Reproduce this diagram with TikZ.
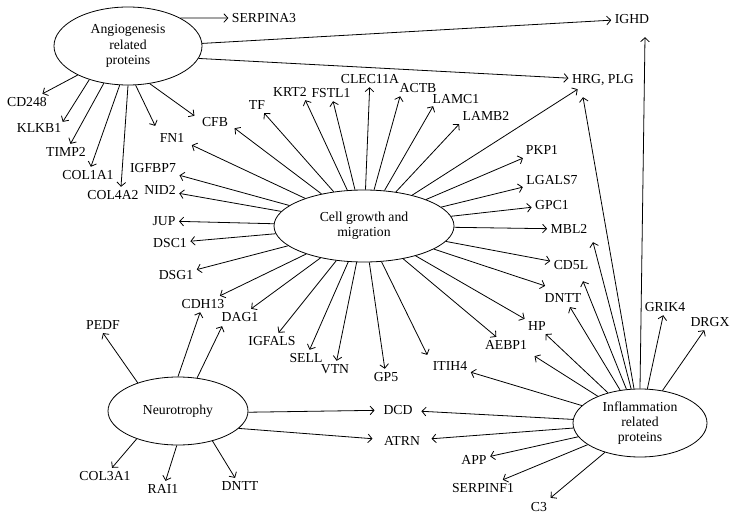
\documentclass[tikz,border=0pt]{standalone}
\usepackage{fontspec}
\setmainfont{Liberation Serif}
\usetikzlibrary{arrows.meta,shapes.geometric}
\begin{document}
\begin{tikzpicture}[x=0.75pt,y=-0.75pt,
  lbl/.style={inner sep=2.5pt, font=\fontsize{10.3}{12}\selectfont},
  grp/.style={draw, ellipse, inner sep=0pt, align=center, line width=0.6pt, font=\fontsize{10.3}{11.4}\selectfont},
  arr/.style={-{Straight Barb[length=3pt,width=6.5pt]}, line width=0.6pt},
]
\useasboundingbox (0,0) rectangle (736,517);
\clip (0,0) rectangle (736,517);

% group ellipses
\node[grp, minimum width=111pt, minimum height=58.5pt] (angio) at (128,46) {Angiogenesis\\related\\proteins};
\node[grp, minimum width=135pt, minimum height=54pt] (cg) at (364,226) {Cell growth and\\migration};
\node[grp, minimum width=105pt, minimum height=51pt] (neuro) at (178,411) {Neurotrophy};
\node[grp, minimum width=100.5pt, minimum height=51pt] (infl) at (640,423) {Inflammation\\related\\proteins};

% labels
\node[lbl] (serpina3) at (264,18) {SERPINA3};
\node[lbl] (ighd) at (632,19) {IGHD};
\node[lbl] (hrg) at (603,80) {HRG, PLG};
\node[lbl] (cd248) at (27,102) {CD248};
\node[lbl] (klkb1) at (39,128) {KLKB1};
\node[lbl] (timp2) at (66,152) {TIMP2};
\node[lbl] (col1a1) at (88,175) {COL1A1};
\node[lbl] (col4a2) at (113,195) {COL4A2};
\node[lbl] (cfb) at (215,122) {CFB};
\node[lbl] (fn1) at (172,138) {FN1};
\node[lbl] (tf) at (257,105) {TF};
\node[lbl] (krt2) at (290,92) {KRT2};
\node[lbl] (fstl1) at (331,93) {FSTL1};
\node[lbl] (clec) at (370,79) {CLEC11A};
\node[lbl] (actb) at (418,88) {ACTB};
\node[lbl] (lamc1) at (456,99) {LAMC1};
\node[lbl] (lamb2) at (486,116) {LAMB2};
\node[lbl] (pkp1) at (542,150) {PKP1};
\node[lbl] (lgals7) at (552,180) {LGALS7};
\node[lbl] (gpc1) at (552,205) {GPC1};
\node[lbl] (mbl2) at (569,229) {MBL2};
\node[lbl] (cd5l) at (571,265) {CD5L};
\node[lbl] (dnttr) at (563,298) {DNTT};
\node[lbl] (hp) at (537,326) {HP};
\node[lbl] (aebp1) at (506,345) {AEBP1};
\node[lbl] (itih4) at (450,366) {ITIH4};
\node[lbl] (gp5) at (386,377) {GP5};
\node[lbl] (vtn) at (335,369) {VTN};
\node[lbl] (sell) at (306,358) {SELL};
\node[lbl] (igfals) at (272,341) {IGFALS};
\node[lbl] (dag1) at (240,317) {DAG1};
\node[lbl] (cdh13) at (203,304) {CDH13};
\node[lbl] (dsg1) at (176,275) {DSG1};
\node[lbl] (dsc1) at (170,243) {DSC1};
\node[lbl] (jup) at (164,221) {JUP};
\node[lbl] (nid2) at (160,190) {NID2};
\node[lbl] (igfbp7) at (153,168) {IGFBP7};
\node[lbl] (pedf) at (103,325) {PEDF};
\node[lbl, inner xsep=6.5pt] (dcd) at (398,410) {DCD};
\node[lbl, inner xsep=8.5pt] (atrn) at (402,441) {ATRN};
\node[lbl] (col3a1) at (105,476) {COL3A1};
\node[lbl] (rai1) at (163,489) {RAI1};
\node[lbl] (dnttb) at (240,486) {DNTT};
\node[lbl] (app) at (474,460) {APP};
\node[lbl] (serpinf1) at (483,488) {SERPINF1};
\node[lbl] (c3) at (539,507) {C3};
\node[lbl] (grik4) at (665,307) {GRIK4};
\node[lbl] (drgx) at (710,322) {DRGX};

% angiogenesis connectors
\draw[arr] (angio.28) -- (serpina3);
\draw[arr] (angio.2) -- (ighd);
\draw[arr] (angio.350) -- (hrg);
\draw[arr] (angio.210) -- (cd248);
\draw[arr] (angio.221) -- ([shift={(-2,2)}]klkb1.north east);
\draw[arr] (angio.237) -- (timp2);
\draw[arr] (angio.258) -- (col1a1);
\draw[arr] (angio.270) -- ([shift={(8,0)}]col4a2.north);
\draw[arr] (angio.281) -- ([shift={(-1,-4)}]fn1.north west);
\draw[arr] (angio.300) -- ([shift={(-4,2)}]cfb.north west);

% cell growth connectors
\draw[arr] (cg) -- ([shift={(3,-2)}]cfb.south east);
\draw[arr] (cg) -- ([shift={(4,-1)}]fn1.south east);
\draw[arr] (cg) -- (tf);
\draw[arr] (cg) -- ([shift={(-5,0)}]krt2.south east);
\draw[arr] (cg) -- (fstl1);
\draw[arr] (cg) -- (clec);
\draw[arr] (cg) -- ([shift={(4,0)}]actb.south west);
\draw[arr] (cg) -- ([shift={(4,-1)}]lamc1.south west);
\draw[arr] (cg) -- (lamb2.south west);
\draw[arr] (cg) -- (hrg.200);
\draw[arr] (cg) -- (pkp1);
\draw[arr] (cg) -- (lgals7);
\draw[arr] (cg) -- (gpc1);
\draw[arr] (cg) -- (mbl2);
\draw[arr] (cg) -- (cd5l);
\draw[arr] (cg) -- ([shift={(4,-4)}]dnttr.north west);
\draw[arr] (cg) -- (hp);
\draw[arr] (cg) -- (aebp1);
\draw[arr] (cg) -- ([shift={(-2,-3)}]itih4.north west);
\draw[arr] (cg) -- (gp5);
\draw[arr] (cg) -- (vtn);
\draw[arr] (cg) -- (sell);
\draw[arr] (cg) -- (igfals);
\draw[arr] (cg) -- (dag1);
\draw[arr] (cg) -- (cdh13);
\draw[arr] (cg) -- (dsg1);
\draw[arr] (cg) -- (dsc1);
\draw[arr] (cg) -- (jup);
\draw[arr] (cg) -- (nid2);
\draw[arr] (cg) -- (igfbp7);

% neurotrophy connectors
\draw[arr] (neuro.145) -- (pedf.south);
\draw[arr] (neuro.90) -- (cdh13);
\draw[arr] (neuro.60) -- ([shift={(4,1)}]dag1.south west);
\draw[arr] (neuro.359) -- (dcd);
\draw[arr] (neuro.344) -- (atrn);
\draw[arr] (neuro.214) -- (col3a1);
\draw[arr] (neuro.268) -- (rai1);
\draw[arr] (neuro.319) -- (dnttb);

% inflammation connectors
\draw[arr] (infl.north) -- ([shift={(13,10)}]ighd.south);
\draw[arr] (infl) -- ([shift={(-20,8)}]hrg.south);
\draw[arr] (infl) -- ([shift={(24,5)}]mbl2.south);
\draw[arr] (infl) -- ([shift={(12,8)}]cd5l.south);
\draw[arr] (infl) -- ([shift={(7,1)}]dnttr.south);
\draw[arr] (infl) -- (hp);
\draw[arr] (infl) -- ([shift={(4,3)}]aebp1.south east);
\draw[arr] (infl) -- (itih4);
\draw[arr] (infl) -- (dcd);
\draw[arr] (infl) -- (atrn);
\draw[arr] (infl) -- (app);
\draw[arr] (infl) -- (serpinf1);
\draw[arr] (infl) -- ([shift={(0,-1)}]c3.north east);
\draw[arr] (infl) -- (grik4);
\draw[arr] (infl) -- (drgx);
\end{tikzpicture}
\end{document}
